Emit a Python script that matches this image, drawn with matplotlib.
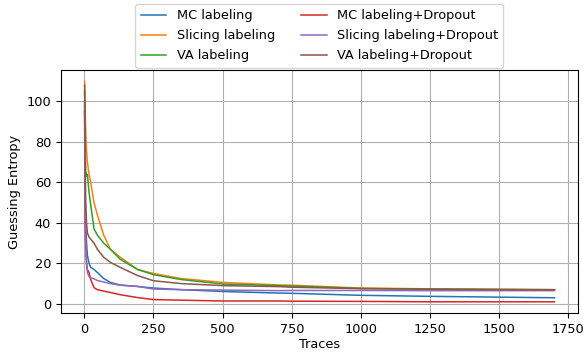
import numpy as np
import matplotlib
matplotlib.use("Agg")
import matplotlib.pyplot as plt

traces = [1, 3, 5, 8, 11, 17, 23, 35, 47, 70, 94, 130, 192, 250, 350,
          500, 706, 750, 1000, 1250, 1500, 1700]

mc = [100, 55, 40, 30, 24, 20, 18, 17, 15.5, 12.5, 10.6, 9.3, 8.6, 7.8, 7.0,
      6.1, 5.3, 5.2, 4.2, 3.7, 3.3, 3.0]
slicing = [110, 95, 85, 76, 70, 64, 60, 50, 44, 34, 27, 23, 17, 15, 12.5,
           10.6, 9.3, 9.2, 7.8, 7.4, 7.2, 7.0]
va = [105, 80, 66, 63, 64, 55, 49, 37, 34, 30, 27, 22, 17, 14.4, 12,
      9.8, 9.0, 8.8, 7.6, 7.3, 7.1, 7.0]
mc_drop = [95, 40, 28, 20, 17, 15.5, 12, 8, 7, 6.3, 5.6, 4.5, 3.1, 2.1, 1.8,
           1.4, 1.4, 1.3, 1.2, 1.0, 1.0, 1.0]
slicing_drop = [98, 45, 30, 20, 15.5, 13.5, 12.8, 12.4, 11.5, 10.8, 10, 9.2, 8.6, 7.3, 7.0,
                6.8, 6.5, 6.6, 6.6, 6.5, 6.5, 6.5]
va_drop = [108, 70, 50, 40, 35, 33, 32, 30, 27, 23, 20.5, 18, 14, 11.4, 10,
           9.0, 8.5, 8.2, 7.5, 7.2, 7.0, 6.9]

series = [
    ("MC labeling", mc, "tab:blue"),
    ("Slicing labeling", slicing, "tab:orange"),
    ("VA labeling", va, "tab:green"),
    ("MC labeling+Dropout", mc_drop, "tab:red"),
    ("Slicing labeling+Dropout", slicing_drop, "tab:purple"),
    ("VA labeling+Dropout", va_drop, "tab:brown"),
]

plt.rcParams['font.size'] = 9.3

fig, ax = plt.subplots(figsize=(5.85, 3.54), dpi=100)
for label, ys, c in series:
    ax.plot(traces, ys, label=label, color=c, linewidth=1.1)

ax.set_xlabel("Traces", labelpad=2)
ax.set_ylabel("Guessing Entropy")
ax.set_xticks(np.arange(0, 1751, 250))
ax.set_yticks(np.arange(0, 101, 20))
ax.set_xlim(-85, 1785)
ax.set_ylim(-4.5, 115.5)
ax.grid(True)
ax.legend(ncol=2, loc="lower center", bbox_to_anchor=(0.5, 1.0),
          borderaxespad=0.2, labelspacing=0.55)
plt.subplots_adjust(left=0.104, right=0.988, top=0.802, bottom=0.116)
plt.savefig("out.png")
